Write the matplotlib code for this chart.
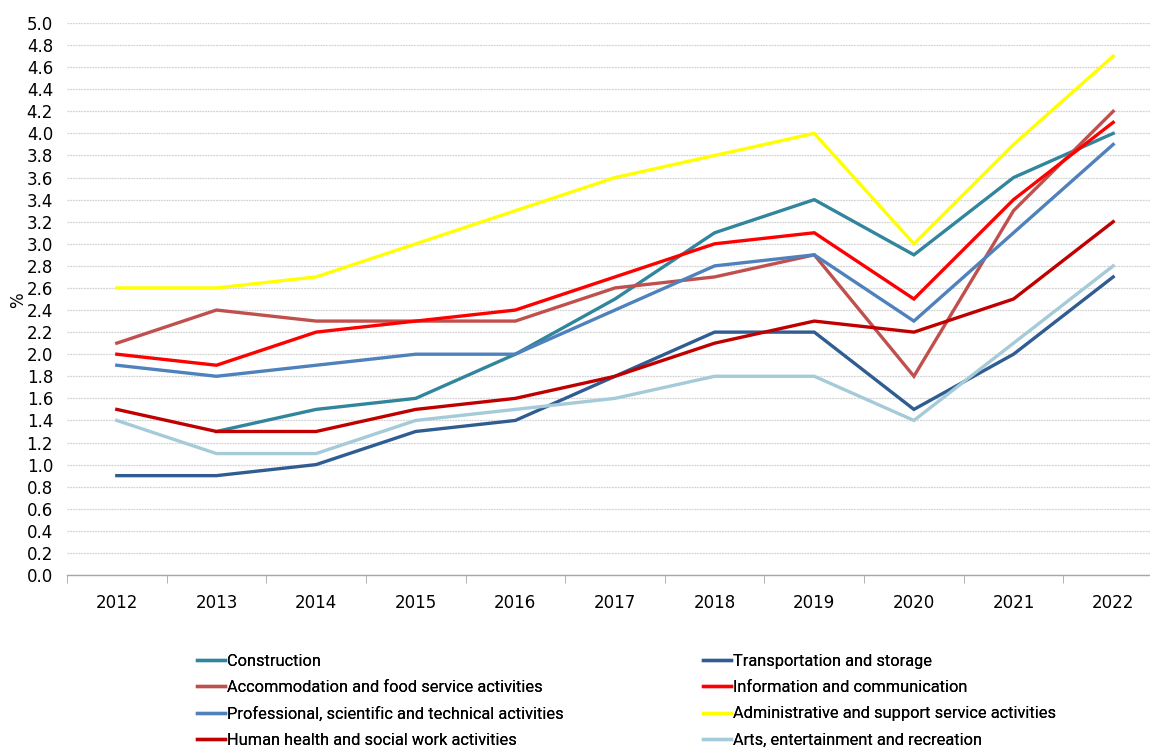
import matplotlib
matplotlib.use("Agg")
import matplotlib.pyplot as plt
import numpy as np

years = ["2012", "2013", "2014", "2015", "2016", "2017", "2018", "2019", "2020", "2021", "2022"]
construction = [np.nan, 1.3, 1.5, 1.6, 2.0, 2.5, 3.1, 3.4, 2.9, 3.6, 4.0]
transportation = [0.9, 0.9, 1.0, 1.3, 1.4, 1.8, 2.2, 2.2, 1.5, 2.0, 2.7]
accommodation = [2.1, 2.4, 2.3, 2.3, 2.3, 2.6, 2.7, 2.9, 1.8, 3.3, 4.2]
information = [2.0, 1.9, 2.2, 2.3, 2.4, 2.7, 3.0, 3.1, 2.5, 3.4, 4.1]
professional = [1.9, 1.8, 1.9, 2.0, 2.0, 2.4, 2.8, 2.9, 2.3, 3.1, 3.9]
administrative = [2.6, 2.6, 2.7, 3.0, 3.3, 3.6, 3.8, 4.0, 3.0, 3.9, 4.7]
health = [1.5, 1.3, 1.3, 1.5, 1.6, 1.8, 2.1, 2.3, 2.2, 2.5, 3.2]
arts = [1.4, 1.1, 1.1, 1.4, 1.5, 1.6, 1.8, 1.8, 1.4, 2.1, 2.8]

series = [
    ("Construction", construction, "#31859C"),
    ("Transportation and storage", transportation, "#2F5C91"),
    ("Accommodation and food service activities", accommodation, "#C0504D"),
    ("Information and communication", information, "#FF0000"),
    ("Professional, scientific and technical activities", professional, "#4F81BD"),
    ("Administrative and support service activities", administrative, "#FFFF00"),
    ("Human health and social work activities", health, "#C00000"),
    ("Arts, entertainment and recreation", arts, "#A5CAD8"),
]

W, H = 1150, 749
fig = plt.figure(figsize=(W / 100, H / 100), dpi=100)
left, right = 67 / W, 1163 / W
bottom, top = (H - 575) / H, (H - 23) / H
ax = fig.add_axes([left, bottom, right - left, top - bottom])

x = np.arange(len(years))
lines = {}
for name, vals, col in series:
    (ln,) = ax.plot(x, vals, color=col, lw=2.4, solid_joinstyle="miter", label=name)
    lines[name] = ln

ax.set_xlim(-0.5, len(years) - 0.5)
ax.set_ylim(0, 5.0)
yt = np.round(np.arange(0, 5.01, 0.2), 1)
ax.set_yticks(yt)
ax.set_yticklabels([f"{v:.1f}" for v in yt])
ax.set_xticks(x)
ax.set_xticklabels(years)
ax.set_xticks(np.arange(-0.5, len(years), 1), minor=True)
ax.tick_params(axis="x", which="major", length=0, pad=14, labelsize=12)
ax.tick_params(axis="x", which="minor", length=6, color="#A6A6A6", direction="out")
ax.tick_params(axis="y", length=0, pad=10, labelsize=12)

ax.grid(axis="y", color="#D4D4D4", lw=0.9, ls=(0, (1.5, 0.7)))
ax.set_axisbelow(True)
for s in ["top", "right", "left"]:
    ax.spines[s].set_visible(False)
ax.spines["bottom"].set_color("#A6A6A6")
ax.spines["bottom"].set_linewidth(1.0)

fig.text(18 / W, 1 - 300 / H, "%", rotation=90, ha="center", va="center", fontsize=12)

col1 = ["Construction", "Accommodation and food service activities",
        "Professional, scientific and technical activities", "Human health and social work activities"]
col2 = ["Transportation and storage", "Information and communication",
        "Administrative and support service activities", "Arts, entertainment and recreation"]
prop = {"family": ["Roboto", "DejaVu Sans"], "size": 11.8}
for names, xpx in [(col1, 197), (col2, 703)]:
    leg = fig.legend([lines[n] for n in names], names, loc="upper left",
                     bbox_to_anchor=(xpx / W, 1 - 654 / H), frameon=False,
                     borderpad=0, borderaxespad=0,
                     handlelength=1.72, handletextpad=0.1, labelspacing=0.68,
                     prop=prop)
    fig.add_artist(leg)

fig.savefig("out.png", dpi=100)
